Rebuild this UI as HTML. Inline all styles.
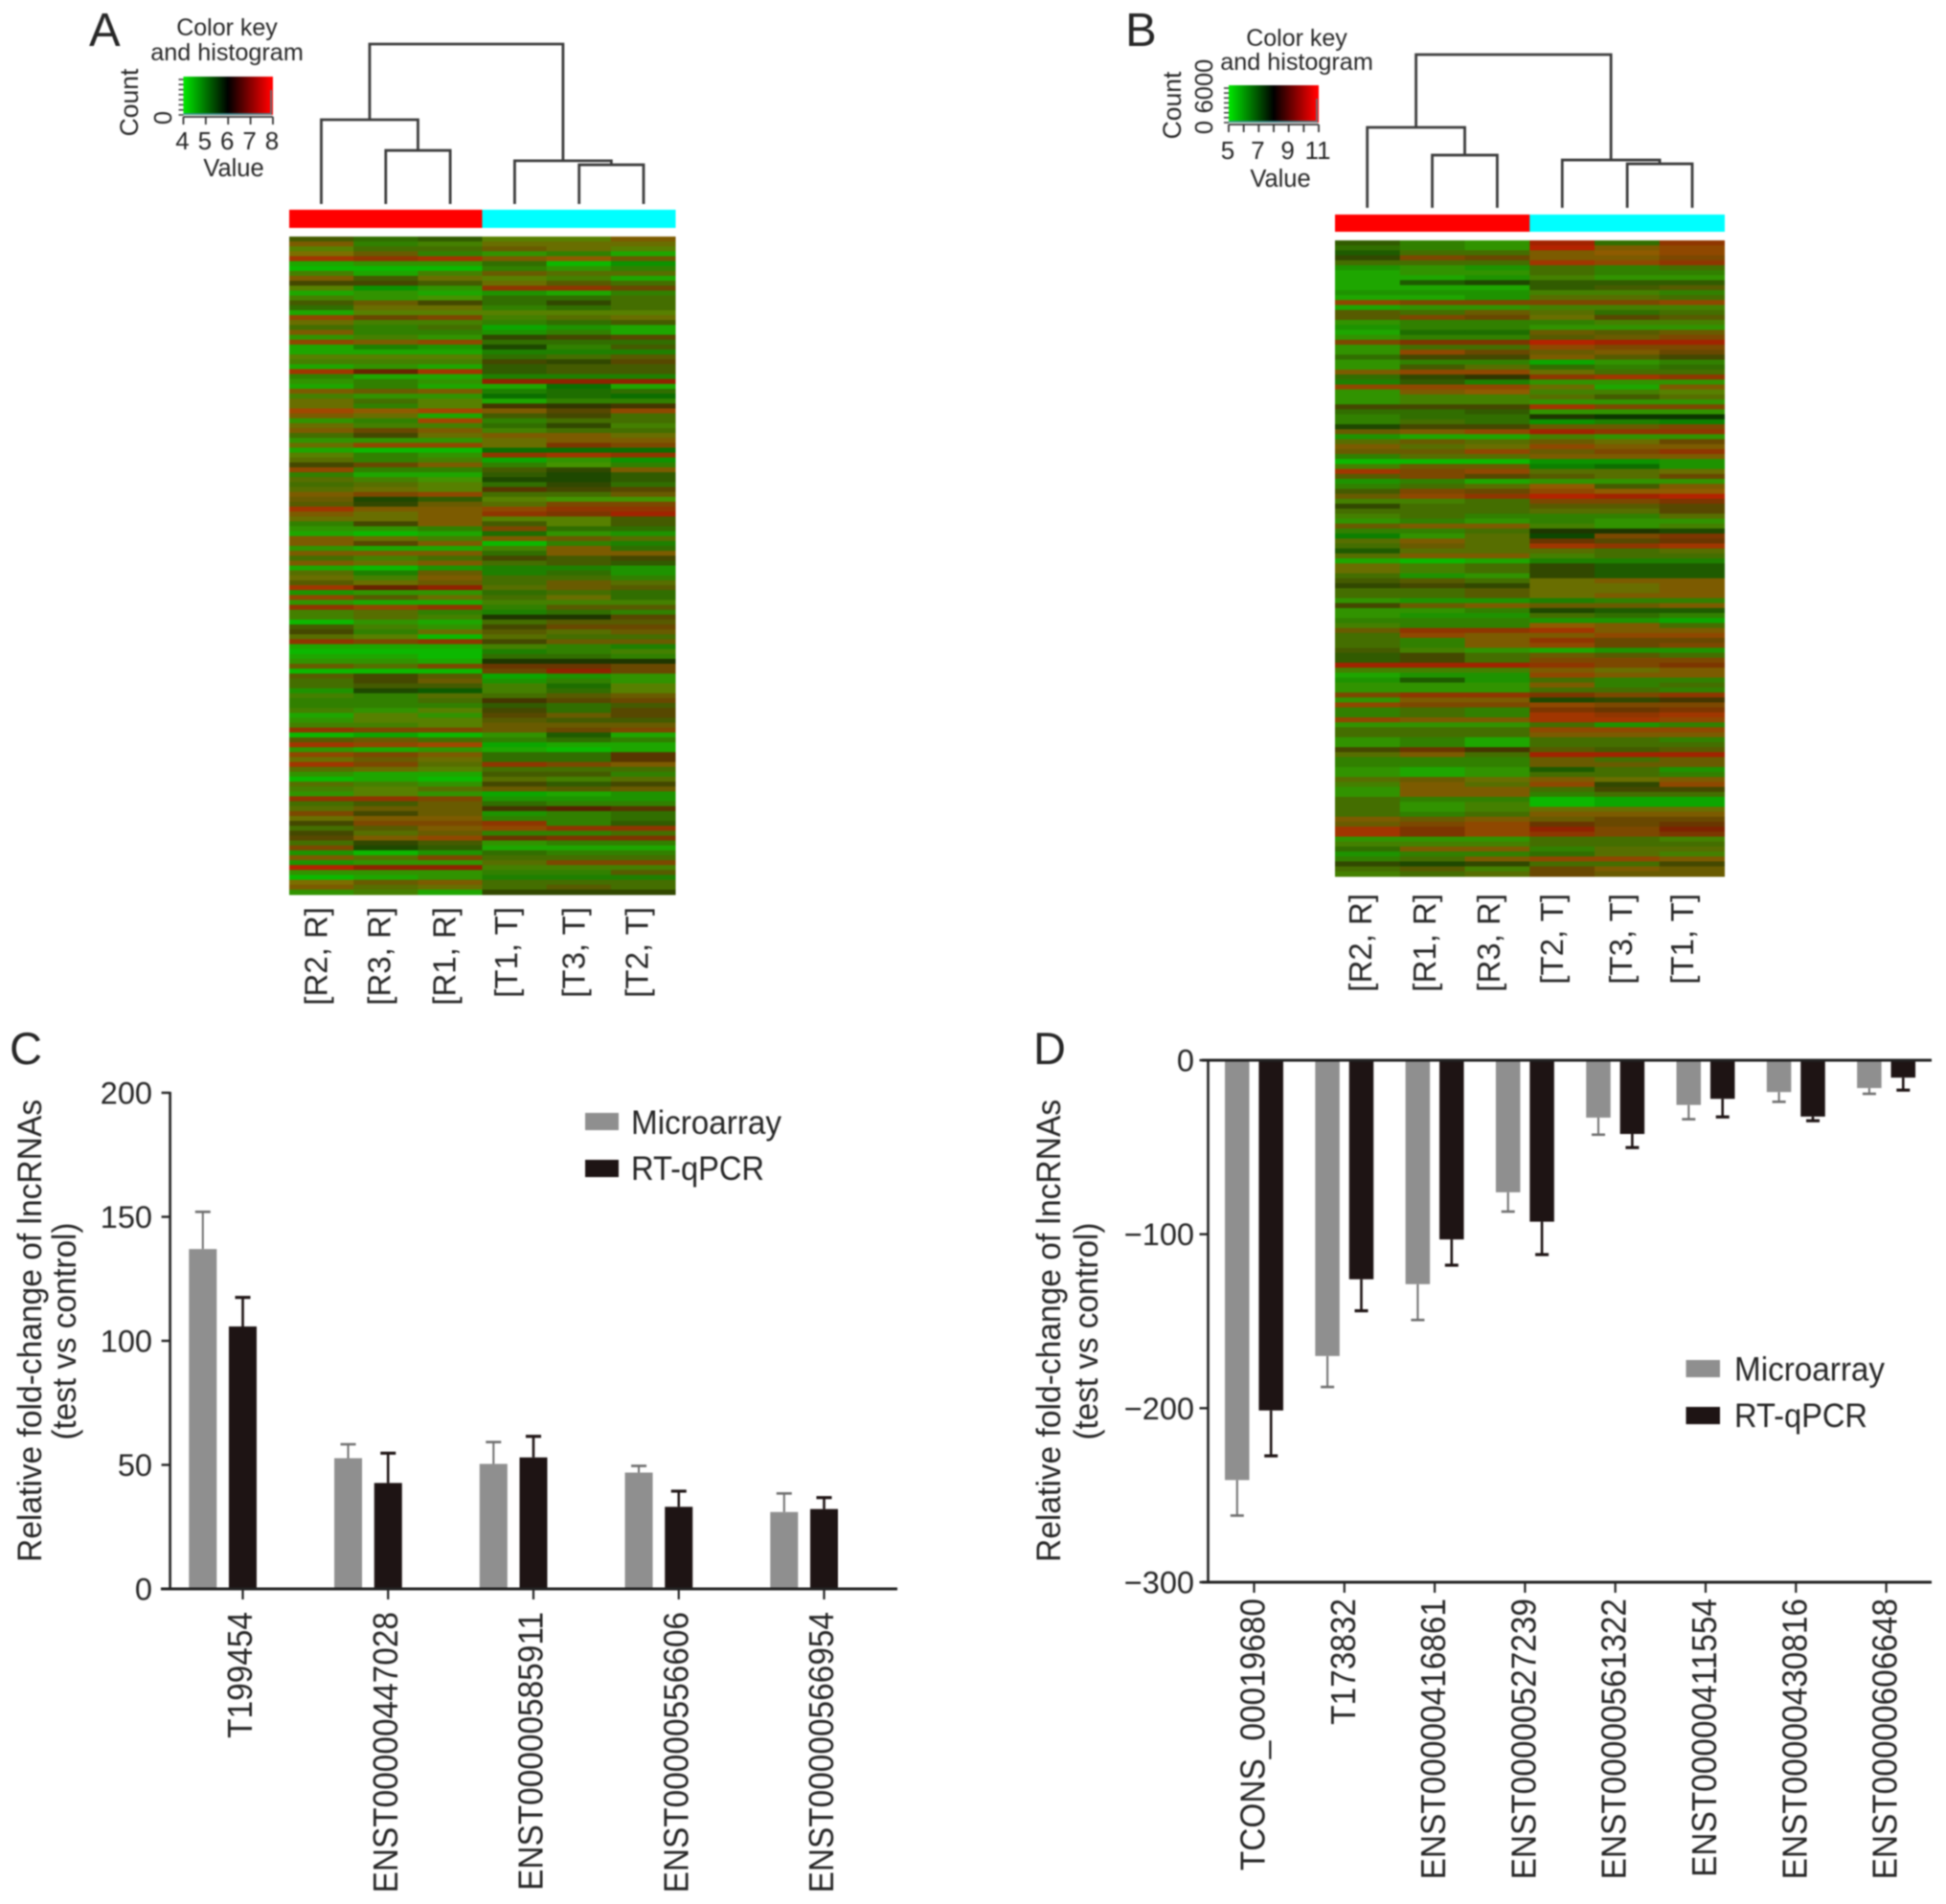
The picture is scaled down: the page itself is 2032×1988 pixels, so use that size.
<!DOCTYPE html>
<html lang="en">
<head>
<meta charset="utf-8">
<title>lncRNA heatmaps and fold-change validation</title>
<style>
html,body{margin:0;padding:0;background:#fff;}
svg{display:block;filter:blur(0.75px);}
text{font-family:"Liberation Sans",sans-serif;fill:#262626;}
</style>
</head>
<body>
<svg id="figure" xmlns="http://www.w3.org/2000/svg" width="2032" height="1988" viewBox="0 0 2032 1988">
<defs>
<linearGradient id="keyGradient" x1="0" x2="1" y1="0" y2="0">
<stop offset="0" stop-color="#00e800"/>
<stop offset="0.5" stop-color="#000000"/>
<stop offset="0.97" stop-color="#ff0000"/>
<stop offset="1" stop-color="#ff0000"/>
</linearGradient>
</defs>
<rect x="0" y="0" width="2032" height="1988" fill="#ffffff"/>
<text x="93" y="48" font-size="49">A</text>
<text x="1175" y="48" font-size="49">B</text>
<text x="10" y="1111" font-size="47">C</text>
<text x="1079" y="1111" font-size="47">D</text>
<g id="panelA"></g>
<g id="panelB"></g>
<g id="panelC"></g>
<g id="panelD"></g>
</svg>
<script>
/* ---------- Panel C data ---------- */
const categoriesC = ['T199454','ENST00000447028','ENST00000585911','ENST00000556606','ENST00000566954'];
const microarrayC = [137,52.7,50.4,46.9,31];
const microarrayErrC = [15,5.6,8.8,2.7,7.5];
const qpcrC = [105.8,42.7,53,33.1,32.2];
const qpcrErrC = [11.7,12,8.5,6.3,4.6];
const yTicksC = [0,50,100,150,200];

/* ---------- Panel D data ---------- */
const categoriesD = ['TCONS_00019680','T173832','ENST00000416861','ENST00000527239','ENST00000561322','ENST00000411554','ENST00000430816','ENST00000606648'];
const microarrayD = [-241.3,-170,-128.7,-75.9,-33,-25.7,-18.3,-16];
const microarrayErrD = [20.4,17.8,20.6,11.1,9.8,8.2,5.6,3.3];
const qpcrD = [-201.3,-125.9,-103,-92.8,-42.4,-22.2,-32.4,-10];
const qpcrErrD = [26.1,18.1,14.8,18.9,7.8,10.4,2.4,7.2];
const yTicksD = [0,-100,-200,-300];

/* ---------- Heatmap data: each cell is two digits, green level then red level ---------- */
const columnsA = ['[R2, R]','[R3, R]','[R1, R]','[T1, T]','[T3, T]','[T2, T]'];
const columnsB = ['[R2, R]','[R1, R]','[R3, R]','[T2, T]','[T3, T]','[T1, T]'];
const sampleGroups = ['R','R','R','T','T','T'];
const keyTicksA = [4,5,6,7,8];
const keyTicksB = [5,7,9,11];
const keyMinorB = [5,6,7,8,9,10,11];
const dendroMergesA = [[1,2,33.5],[0,6,52.7],[4,5,24.5],[3,8,27],[7,9,100]];
const dendroMergesB = [[1,2,34.4],[0,6,52.5],[4,5,28.7],[3,8,31.2],[7,9,100]];
const heatmapA = [
[43,52,42,64,64,46],[46,62,63,55,55,55],[64,53,53,45,55,64],[56,45,62,72,62,81],[28,27,28,46,47,45],
[81,72,72,52,90,70],[90,90,90,62,72,62],[63,81,63,45,54,54],[46,43,55,64,63,81],[33,33,43,55,44,53],
[64,70,72,27,27,35],[81,72,81,71,81,62],[63,72,73,52,52,53],[43,45,33,52,32,53],[52,55,55,62,52,53],
[81,64,64,64,64,64],[37,35,36,63,54,55],[55,63,63,62,52,43],[53,62,53,80,71,81],[46,62,62,71,62,81],
[72,63,72,32,33,34],[37,46,37,52,52,52],[81,61,71,31,62,43],[81,81,81,61,61,61],[64,64,64,52,53,44],
[63,63,63,33,32,34],[81,72,81,42,43,43],[28,15,28,42,43,43],[62,81,81,61,61,61],[72,62,72,17,17,17],
[81,62,81,81,50,81],[46,45,46,61,51,52],[63,72,72,50,51,50],[55,53,64,81,62,62],[55,62,64,23,22,23],
[38,47,38,46,34,37],[46,55,81,43,33,53],[72,62,38,62,53,53],[55,63,63,52,32,63],[46,35,46,63,53,53],
[53,33,55,46,46,55],[72,72,72,55,46,46],[55,37,37,55,26,36],[81,90,90,50,50,50],[64,62,72,27,28,27],
[54,62,63,80,72,70],[33,35,46,62,73,62],[37,62,62,43,32,46],[62,81,81,42,31,42],[54,63,73,31,31,42],
[53,54,64,52,32,52],[54,55,64,24,33,34],[46,36,37,53,53,45],[45,31,42,64,73,73],[44,32,45,54,36,36],
[28,46,46,37,27,27],[46,55,46,27,26,18],[55,55,46,64,64,43],[62,33,46,43,64,43],[72,72,62,36,52,52],
[81,90,81,51,72,71],[46,55,63,46,45,54],[46,34,46,90,62,61],[72,81,81,63,46,52],[46,46,46,52,46,46],
[53,63,53,33,43,33],[46,55,46,53,43,42],[81,90,71,61,61,71],[54,61,45,61,52,71],[55,63,46,53,53,62],
[44,55,45,53,45,54],[28,15,17,54,45,44],[71,72,72,52,53,52],[37,44,55,53,55,52],[72,81,81,63,63,63],
[27,37,27,62,44,44],[63,54,62,61,52,62],[63,54,63,21,21,34],[90,72,81,53,44,44],[43,63,72,33,35,35],
[33,62,55,44,54,45],[54,64,90,54,53,53],[27,36,27,33,45,45],[81,81,81,63,62,61],[90,90,90,61,62,63],
[81,81,90,52,52,62],[72,72,81,21,21,21],[45,54,36,25,25,35],[90,90,90,35,17,35],[44,33,44,80,71,72],
[53,33,45,71,62,72],[53,43,43,63,51,64],[71,31,40,63,52,64],[63,62,54,53,44,45],[62,62,53,23,34,35],
[62,62,62,42,52,43],[63,72,64,33,52,34],[81,64,72,34,45,34],[72,64,64,44,43,43],[63,63,64,45,45,45],
[27,36,36,45,35,36],[90,80,90,72,41,81],[44,45,53,62,52,62],[28,37,38,80,81,81],[72,81,72,81,90,81],
[37,36,46,52,52,24],[55,45,55,52,52,24],[28,36,54,27,36,46],[54,55,64,53,53,53],[72,81,81,43,43,62],
[90,81,90,54,63,54],[54,63,72,33,42,33],[63,64,54,45,44,45],[72,64,72,80,81,71],[27,27,36,71,71,71],
[53,43,45,52,62,62],[54,45,45,23,14,24],[36,33,45,71,62,52],[55,46,46,62,62,52],[33,36,36,27,62,42],
[53,44,46,37,27,27],[33,54,45,62,62,53],[34,46,37,25,26,26],[53,32,43,72,62,62],[36,31,42,81,81,81],
[71,90,71,52,62,62],[46,54,36,53,53,53],[71,72,72,54,36,36],[19,17,17,63,63,63],[72,72,72,62,62,44],
[90,81,72,61,61,61],[56,45,46,53,53,53],[46,54,55,53,44,53],[72,63,81,32,32,32]
];
const heatmapB = [
[42,62,72,18,52,27],[52,62,72,19,46,37],[41,53,53,46,47,37],[32,36,35,46,46,36],[53,53,53,28,37,27],
[71,72,71,53,62,53],[81,72,72,53,62,62],[81,81,71,63,72,72],[81,41,31,42,42,42],[81,81,81,42,43,44],
[71,71,71,63,63,62],[81,81,71,54,54,53],[37,36,36,36,36,37],[81,72,72,63,63,63],[44,53,45,54,52,53],
[44,36,35,55,34,44],[72,62,62,62,63,63],[71,62,62,72,72,72],[81,51,51,45,44,45],[72,62,62,44,45,36],
[36,26,26,19,18,18],[72,53,53,37,36,36],[72,37,35,45,46,35],[52,33,33,46,44,33],[72,62,62,80,72,62],
[72,43,54,52,62,52],[46,37,37,55,53,53],[52,32,22,27,28,27],[61,42,61,72,72,72],[37,37,37,55,81,46],
[72,46,47,63,63,64],[72,63,63,54,43,54],[72,63,63,72,72,72],[33,33,33,28,36,36],[52,52,42,72,72,72],
[62,52,52,21,20,20],[62,53,52,70,61,60],[31,33,33,45,45,36],[45,46,37,18,27,27],[71,81,81,63,72,72],
[54,45,54,45,55,35],[46,54,55,37,46,46],[45,45,37,45,36,27],[62,54,54,46,46,46],[90,90,90,70,70,71],
[63,45,45,60,50,71],[28,36,37,54,54,55],[44,36,34,44,54,35],[71,62,81,72,72,72],[62,53,54,47,43,46],
[43,36,35,37,47,47],[45,37,27,19,18,19],[63,63,53,36,36,26],[32,53,53,44,44,34],[53,53,53,54,54,34],
[63,53,62,62,62,54],[72,62,72,62,72,72],[45,46,46,63,72,63],[62,62,53,21,21,31],[60,72,54,30,36,26],
[54,46,54,25,34,25],[53,45,54,28,27,28],[41,54,54,54,53,54],[54,46,46,63,53,53],[81,90,81,61,61,61],
[55,63,53,32,41,41],[55,63,53,32,41,41],[53,71,72,32,41,41],[43,44,53,55,46,46],[32,33,32,55,55,46],
[53,53,44,55,55,46],[53,53,44,55,46,46],[72,71,71,61,62,62],[33,45,46,45,45,46],[72,72,62,31,41,41],
[72,71,71,53,52,62],[62,62,62,71,71,80],[63,62,62,47,46,53],[45,27,27,28,46,46],[53,37,46,46,37,37],
[53,62,46,27,35,35],[53,62,46,37,35,36],[43,63,72,81,71,71],[42,33,53,45,44,53],[42,33,53,36,36,36],
[18,18,18,27,36,26],[63,63,63,46,55,46],[81,71,71,37,46,46],[71,41,71,53,62,62],[72,72,72,46,62,53],
[72,72,72,53,53,62],[36,27,27,26,36,27],[72,46,46,31,32,23],[37,36,36,37,36,36],[62,53,62,26,25,26],
[62,53,62,28,27,28],[37,46,46,28,28,37],[72,72,72,53,71,62],[53,53,53,37,37,37],[53,53,53,46,46,46],
[72,62,81,53,53,62],[72,62,81,53,53,53],[33,25,23,44,43,44],[54,46,53,18,18,18],[62,62,62,45,53,45],
[62,62,62,45,45,45],[72,81,72,41,53,71],[72,81,72,53,53,62],[54,45,55,46,55,46],[63,46,54,37,32,37],
[72,46,46,53,33,33],[72,46,46,62,53,53],[53,62,62,90,80,80],[53,72,63,90,80,80],[53,72,63,55,55,55],
[53,62,53,46,46,46],[46,45,46,45,35,35],[45,36,37,25,35,25],[28,26,37,17,36,16],[28,26,37,27,36,26],
[72,72,72,53,53,63],[63,63,63,53,53,53],[52,46,46,62,54,54],[71,62,62,52,54,63],[62,53,46,37,37,46],
[32,31,32,53,53,33],[53,44,63,35,46,45],[63,53,54,35,45,45]
];

/* ---------- helpers ---------- */
const NS = 'http://www.w3.org/2000/svg';
function mk(tag, attrs, parent, txt){
  const el = document.createElementNS(NS, tag);
  for (const k in attrs) el.setAttribute(k, attrs[k]);
  if (txt !== undefined) el.textContent = txt;
  parent.appendChild(el);
  return el;
}
function vtext(x, y, str, size, anchor, parent){
  return mk('text', {x:x, y:y, 'font-size':size, 'text-anchor':anchor, transform:'rotate(-90 '+x+' '+y+')'}, parent, str);
}
/* Condense a text run to a target length, so a taller font keeps the original run length */
function fitLength(el, len){
  el.setAttribute('textLength', len);
  el.setAttribute('lengthAdjust', 'spacingAndGlyphs');
}
function cellColor(v){
  const g = Math.floor(v/10)*22;
  const r = (v%10)*22;
  const mixR = Math.round(r*0.85 + 78*0.15);
  const mixG = Math.round(g*0.85 + 108*0.15);
  return 'rgb('+mixR+','+mixG+',0)';
}

/* ---------- Heatmap panel ---------- */
function drawHeatmap(root, cfg){
  const colX = i => cfg.left + (cfg.right-cfg.left)/6*i;
  const colW = (cfg.right-cfg.left)/6;
  const rowH = (cfg.bottom-cfg.top)/cfg.rows.length;
  const rowY = i => cfg.top + rowH*i;

  cfg.rows.forEach((row, r) => {
    row.forEach((v, c) => {
      const cell = mk('rect', {x:colX(c), y:rowY(r), width:colW+0.5, height:rowH+0.5, fill:cellColor(v)}, root);
      
      
    });
  });

  sampleGroups.forEach((g, c) => {
    const bar = mk('rect', {x:colX(c), y:cfg.barTop, width:colW+0.5, height:cfg.barH, fill: g==='R' ? '#ff0000' : '#00ffff'}, root);
    
    
  });

  cfg.columns.forEach((label, c) => {
    const t = vtext(cfg.labelX[c], cfg.labelTop, label, 33, 'end', root);
    
    
  });

  /* dendrogram */
  const nodes = [];
  const leafH = 0;
  for (let i=0;i<6;i++) nodes.push({x:cfg.leaves[0]+(cfg.leaves[1]-cfg.leaves[0])/5*i, h:leafH});
  const hY = h => cfg.treeBase - (cfg.treeBase-cfg.treeTop)*h/100;
  cfg.merges.forEach(m => {
    const a = nodes[m[0]], b = nodes[m[1]], h = m[2];
    const p = mk('path', {d:'M'+a.x+' '+hY(a.h)+'V'+hY(h)+'H'+b.x+'V'+hY(b.h), fill:'none', stroke:'#3c3c3c', 'stroke-width':2.8}, root);
    
    
    nodes.push({x:(a.x+b.x)/2, h:h});
  });

  /* color key */
  const k = cfg.key;
  const ks = v => k.x0 + (v-k.min)/(k.max-k.min)*(k.x1-k.x0);
  const grad = mk('rect', {x:k.x0, y:k.y0, width:k.x1-k.x0, height:k.y1-k.y0, fill:'url(#keyGradient)'}, root);
  
  
  const hist = mk('path', {d:'M'+k.x0+' '+(k.y1-1)+'H'+(k.x1-2)+'V'+(k.y0+14), fill:'none', stroke:'#3f8f96', 'stroke-width':1.4}, root);
  
  
  const xAxis = mk('path', {d:'M'+k.x0+' '+(k.y1+2)+'H'+k.x1, stroke:'#333', 'stroke-width':1.8, fill:'none'}, root);
  
  
  k.minor.forEach(v => {
    const tk = mk('line', {x1:ks(v), x2:ks(v), y1:k.y1+2, y2:k.y1+10, stroke:'#333', 'stroke-width':1.8}, root);
    
    
  });
  k.ticks.forEach(v => {
    const lb = mk('text', {x:ks(v)-1, y:k.labelY, 'font-size':26, 'text-anchor':'middle'}, root, String(v));
    
    
  });
  for (let i=0;i<8;i++){
    const y = k.y0+3+(k.y1-k.y0-3)/7*i;
    const ct = mk('line', {x1:k.x0-5, x2:k.x0, y1:y, y2:y, stroke:'#333', 'stroke-width':1.5}, root);
    
    
  }
  const t1 = mk('text', {x:k.titleX, y:k.title1Y, 'font-size':25, 'text-anchor':'middle'}, root, 'Color key');
  
  
  const t2 = mk('text', {x:k.titleX, y:k.title2Y, 'font-size':25.2, 'text-anchor':'middle'}, root, 'and histogram');
  
  
  const val = mk('text', {x:k.valueX, y:k.valueY, 'font-size':25.5, 'text-anchor':'middle'}, root, 'Value');
  
  
  const cnt = vtext(k.countX, k.countY, 'Count', 26.5, 'middle', root);
  
  
  k.countLabels.forEach(c => {
    const cl = vtext(k.countTickX, c[1], c[0], 25.5, 'middle', root);
    
    
  });
}

drawHeatmap(document.getElementById('panelA'), {
  left:302, right:705, top:247, bottom:934, rows:heatmapA, columns:columnsA,
  barTop:219, barH:19, labelTop:947,
  labelX:[341.7,407.3,475.7,540,610.7,676.7],
  leaves:[335.5,672], treeBase:213, treeTop:46, merges:dendroMergesA,
  key:{x0:191.5,x1:285,y0:80,y1:120,min:4,max:8,ticks:keyTicksA,minor:keyTicksA,labelY:156,
       titleX:237,title1Y:37,title2Y:63,valueX:244,valueY:184,countX:144,countY:107,countTickX:179,
       countLabels:[['0',123]]}
});
drawHeatmap(document.getElementById('panelB'), {
  left:1394, right:1800.5, top:251, bottom:915, rows:heatmapB, columns:columnsB,
  barTop:224, barH:18, labelTop:933,
  labelX:[1432,1499,1566,1632,1704,1768],
  leaves:[1427.7,1767], treeBase:217, treeTop:57, merges:dendroMergesB,
  key:{x0:1283,x1:1377,y0:89,y1:128,min:5,max:11,ticks:keyTicksB,minor:keyMinorB,labelY:166,
       titleX:1354,title1Y:48,title2Y:73,valueX:1337,valueY:195,countX:1233,countY:110,countTickX:1266,
       countLabels:[['0',133],['6000',90]]}
});

/* ---------- Bar panels ---------- */
function drawBars(root, cfg){
  const yS = v => cfg.yPx0 + (v-cfg.yV0)/(cfg.yV1-cfg.yV0)*(cfg.yPx1-cfg.yPx0);
  const xS = i => cfg.x0 + cfg.step*i;
  const zero = yS(0);

  const series = [
    {vals:cfg.micro, errs:cfg.microErr, off:cfg.offGray, fill:'#8f8f8f', err:'#6e6e6e', name:'microarray', sw:2},
    {vals:cfg.qpcr, errs:cfg.qpcrErr, off:cfg.offBlack, fill:'#1e1414', err:'#1e1414', name:'rt-qpcr', sw:2.6}
  ];
  series.forEach(s => {
    s.vals.forEach((v, i) => {
      const cx = xS(i)+s.off;
      const y = yS(v);
      const tip = yS(v + (v>=0 ? s.errs[i] : -s.errs[i]));
      const stem = mk('line', {x1:cx, x2:cx, y1:y, y2:tip, stroke:s.err, 'stroke-width':s.sw}, root);
      
      
      const cap = mk('line', {x1:cx-cfg.cap, x2:cx+cfg.cap, y1:tip, y2:tip, stroke:s.err, 'stroke-width':s.sw+0.6}, root);
      
      
      const bar = mk('rect', {x:cx-cfg.barW/2, y:Math.min(y,zero), width:cfg.barW, height:Math.abs(zero-y), fill:s.fill}, root);
      
      
    });
  });

  const yAxis = mk('line', {x1:cfg.axisX, x2:cfg.axisX, y1:yS(cfg.yV1)-1, y2:yS(cfg.yV0)+1, stroke:'#222', 'stroke-width':2.6}, root);
  
  
  cfg.xLines.forEach(v => {
    const xa = mk('line', {x1:cfg.xLineL, x2:cfg.xLineR, y1:yS(v), y2:yS(v), stroke:'#222', 'stroke-width':3}, root);
    
    
  });
  cfg.yTicks.forEach(v => {
    const tk = mk('line', {x1:cfg.axisX-9, x2:cfg.axisX, y1:yS(v), y2:yS(v), stroke:'#222', 'stroke-width':2.4}, root);
    
    
    const lb = mk('text', {x:cfg.tickLabelX, y:yS(v)+11.5, 'font-size':32.5, 'text-anchor':'end'}, root, String(v).replace('-','\u2212'));
    
    
  });
  cfg.cats.forEach((c, i) => {
    const tk = mk('line', {x1:xS(i), x2:xS(i), y1:cfg.xTickY, y2:cfg.xTickY+10, stroke:'#222', 'stroke-width':2.2}, root);
    
    
    const lb = vtext(xS(i)+cfg.labelOff, cfg.xLabelTop, c, 36, 'end', root);
    
    
    fitLength(lb, lb.getComputedTextLength()*33.4/36);
  });

  const t1 = vtext(cfg.title1X, 1389.5, 'Relative fold-change of lncRNAs', 35.5, 'middle', root);
  
  
  fitLength(t1, 483);
  const t2 = vtext(cfg.title2X, 1390, '(test vs control)', 35, 'middle', root);
  
  
  fitLength(t2, 227);

  const l = cfg.legend;
  const sw1 = mk('rect', {x:l.x, y:l.y1, width:l.w, height:l.h, fill:'#8f8f8f'}, root);
  
  
  const tx1 = mk('text', {x:l.tx, y:l.b1, 'font-size':35}, root, 'Microarray');
  
  
  fitLength(tx1, 157);
  const sw2 = mk('rect', {x:l.x, y:l.y2, width:l.w, height:l.h, fill:'#1e1414'}, root);
  
  
  const tx2 = mk('text', {x:l.tx, y:l.b2, 'font-size':35}, root, 'RT-qPCR');
  
  
  fitLength(tx2, 139);
}

drawBars(document.getElementById('panelC'), {
  cats:categoriesC, micro:microarrayC, microErr:microarrayErrC, qpcr:qpcrC, qpcrErr:qpcrErrC, yTicks:yTicksC,
  yV0:0, yV1:200, yPx0:1659, yPx1:1141,
  x0:253.5, step:151.75, offGray:-41.7, offBlack:0, barW:29, cap:8,
  axisX:177.6, xLines:[0], xLineL:168, xLineR:937, xTickY:1660, xLabelTop:1683, labelOff:9.5,
  tickLabelX:159, title1X:43, title2X:79,
  legend:{x:611,w:35,h:18,y1:1162,y2:1211,tx:659,b1:1184,b2:1232}
});
drawBars(document.getElementById('panelD'), {
  cats:categoriesD, micro:microarrayD, microErr:microarrayErrD, qpcr:qpcrD, qpcrErr:qpcrErrD, yTicks:yTicksD,
  yV0:0, yV1:-300, yPx0:1107, yPx1:1652,
  x0:1309.5, step:94.3, offGray:-17.7, offBlack:17.7, barW:25.5, cap:7,
  axisX:1261.5, xLines:[0,-300], xLineL:1255, xLineR:2017, xTickY:1653, xLabelTop:1669, labelOff:11,
  tickLabelX:1247, title1X:1107, title2X:1146,
  legend:{x:1760.5,w:35.5,h:18,y1:1420,y2:1469,tx:1811,b1:1441.5,b2:1490}
});
</script>
</body>
</html>
